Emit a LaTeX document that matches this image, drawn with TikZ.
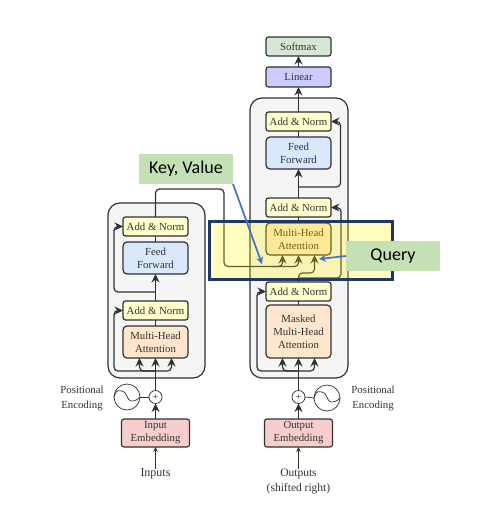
\documentclass[tikz,border=0pt]{standalone}
\usepackage{fontspec}
\setmainfont{Liberation Serif}
\newfontfamily\calloutfont{Carlito}
\usetikzlibrary{arrows.meta, positioning}

\definecolor{linegrey}{HTML}{2F3133}
\definecolor{textgrey}{HTML}{333333}
\definecolor{navyedge}{HTML}{1F3864}
\definecolor{calloutgreen}{HTML}{C5E0B4}
\definecolor{calloutblue}{HTML}{4472C4}

\begin{document}
\begin{tikzpicture}[
    x=1pt, y=-1pt,
    node distance=6pt,
    every node/.style={outer sep=0pt, text=textgrey, font=\fontsize{10.8}{13}\selectfont, align=center},
    box/.style={draw=linegrey, line width=1.2pt, rounded corners=2.5pt, minimum width=65pt, inner sep=0pt},
    addnorm/.style={box, fill={rgb,255:red,255;green,255;blue,204}, minimum height=19pt},
    feed/.style={box, fill={rgb,255:red,218;green,232;blue,252}, minimum height=32pt, rounded corners=4pt},
    attn/.style={box, fill={rgb,255:red,255;green,230;blue,204}, minimum height=32pt, rounded corners=4pt},
    embed/.style={box, fill={rgb,255:red,248;green,206;blue,204}, minimum width=68pt, minimum height=28pt},
    block/.style={draw=linegrey, line width=1.2pt, fill={rgb,255:red,245;green,245;blue,245}, rounded corners=12pt, inner sep=0pt},
    plain/.style={inner sep=0pt},
    pe/.style={draw=linegrey, circle, line width=.7pt, inner sep=0pt, minimum size=26pt},
    plus/.style={draw=linegrey, circle, fill=white, line width=.7pt, inner sep=0pt, minimum size=13pt},
    conn/.style={draw=linegrey, line width=1.2pt, rounded corners=4pt},
    tip/.style={conn, -{Stealth[length=8.5pt, width=8pt]}},
    thin tip/.style={draw=linegrey, line width=.7pt, -{Stealth[length=5pt, width=4.5pt]}},
    callout/.style={fill=calloutgreen, minimum width=94pt, minimum height=30pt, inner sep=0pt, text=black, font=\calloutfont\fontsize{18}{20}\selectfont},
    pointer/.style={draw=calloutblue, line width=1.7pt, -{Stealth[length=7pt, width=7pt]}}
]
\useasboundingbox (0,0) rectangle (481,511);

% grey blocks first
\node [block, minimum width=97pt, minimum height=175pt] (encoder) at (156.5,290.5) {};
\node [block, minimum width=98pt, minimum height=280pt] (decoder) at (299,238) {};

% encoder stack
\node [attn] (mhaE) at (155.5,342) {Multi-Head\\Attention};
\node [addnorm, above=of mhaE] (addE1) {Add \& Norm};
\node [feed, above=27pt of addE1] (ffE) {Feed\\Forward};
\node [addnorm, above=of ffE] (addE2) {Add \& Norm};
\node [embed] (embE) at (155.5,433) {Input\\Embedding};
\node [plus] (plusE) at (155.5,397) {+};
\node [pe] (peE) at (127,397) {};
\node [plain] (posE) at (82,398) {Positional\\[2pt]Encoding};
\node [plain, font=\fontsize{12}{14}\selectfont] (inE) at (155.5,474) {Inputs};

% decoder stack
\node [attn, minimum height=53pt] (mmaD) at (298.5,331.5) {Masked\\Multi-Head\\Attention};
\node [addnorm, above=4pt of mmaD] (addD1) {Add \& Norm};
\node [attn, above=27pt of addD1] (mhaD) {Multi-Head\\Attention};
\node [addnorm, above=of mhaD] (addD2) {Add \& Norm};
\node [feed, above=29pt of addD2] (ffD) {Feed\\Forward};
\node [addnorm, above=of ffD] (addD3) {Add \& Norm};
\node [box, fill={rgb,255:red,204;green,204;blue,255}, minimum height=20pt, above=25pt of addD3] (linear) {Linear};
\node [box, fill={rgb,255:red,213;green,232;blue,212}, minimum height=19pt, above=11pt of linear] (softmax) {Softmax};
\node [embed] (embD) at (298.5,433) {Output\\Embedding};
\node [plus] (plusD) at (298.5,397) {+};
\node [pe] (peD) at (327,398) {};
\node [plain] (posD) at (373,398.5) {Positional\\[2pt]Encoding};
\node [plain, font=\fontsize{11.5}{15.5}\selectfont] (outD) at (298.5,481.5) {Outputs\\(shifted right)};

% junctions
\coordinate (jE1) at (155.5,371);
\coordinate (jE2) at (155.5,292);
\coordinate (jMem) at (224,189);
\coordinate (jKey) at (272,266.5);
\coordinate (jD1) at (298.5,371);
\coordinate (jD2) at (298.5,278);
\coordinate (jQuery) at (306,273);
\coordinate (jD3) at (298.5,187);
\coordinate (kvEnd) at (262,264);
\coordinate (qEnd) at (319,259);

% encoder wires
\draw [thin tip] (inE.north) -- (embE.south);
\draw [tip] (embE.north) -- (plusE.south);
\draw [draw=linegrey, line width=.7pt] (peE.east) -- (plusE.west);
\draw [tip] (plusE.north) -- (mhaE.south);
\draw [tip] (jE1) -| ([xshift=-16pt]mhaE.south);
\draw [tip] (jE1) -| ([xshift=16pt]mhaE.south);
\draw [tip] (jE1) -- ++(-41.5,0) |- (addE1.west);
\draw [conn] (mhaE.north) -- (addE1.south);
\draw [tip] (addE1.north) -- (ffE.south);
\draw [conn] (ffE.north) -- (addE2.south);
\draw [tip] (jE2) -- ++(-41.5,0) |- (addE2.west);
\draw [tip] (addE2.north) |- (jMem) |- (jKey) -| (mhaD.south);
\draw [tip] (jKey) -| ([xshift=-16pt]mhaD.south);

% decoder wires
\draw [thin tip] (outD.north) -- (embD.south);
\draw [tip] (embD.north) -- (plusD.south);
\draw [draw=linegrey, line width=.7pt] (peD.west) -- (plusD.east);
\draw [tip] (plusD.north) -- (mmaD.south);
\draw [tip] (jD1) -| ([xshift=-16pt]mmaD.south);
\draw [tip] (jD1) -| ([xshift=16pt]mmaD.south);
\draw [tip] (jD1) -- ++(-41.5,0) |- (addD1.west);
\draw [conn] (mmaD.north) -- (addD1.south);
\draw [conn] (addD1.north) -- (jD2);
\draw [tip] (jD2) |- (jQuery) -| ([xshift=16pt]mhaD.south);
\draw [tip] (jD2) -- ++(42.5,0) |- (addD2.east);
\draw [conn] (mhaD.north) -- (addD2.south);
\draw [tip] (addD2.north) -- (ffD.south);
\draw [conn] (ffD.north) -- (addD3.south);
\draw [tip] (jD3) -- ++(42,0) |- (addD3.east);
\draw [tip] (addD3.north) -- (linear.south);
\draw [tip] (linear.north) -- (softmax.south);

% highlight over the cross attention
\node [draw=navyedge, fill=yellow, fill opacity=.26, line width=3pt, minimum width=183pt, minimum height=58pt, inner sep=0pt] (focus) at (300.5,250) {};

% sine waves
\foreach \pename in {peE, peD} {
    \draw [linegrey, line width=.7pt] (\pename.west) .. controls +(3,-9) and +(-3,0) .. ([xshift=-5pt,yshift=6pt]\pename.center) .. controls +(5,0) and +(-4,0) .. ([xshift=4pt,yshift=-4pt]\pename.center) .. controls +(4,0) and +(-3,3) .. (\pename.east);
}

% call-outs
\node [callout] (keyval) at (186,169) {Key, Value};
\node [callout] (query) at (393,256) {Query};
\draw [pointer] (keyval.south east) -- (kvEnd);
\draw [pointer] (query.west) -- (qEnd);
\end{tikzpicture}
\end{document}
